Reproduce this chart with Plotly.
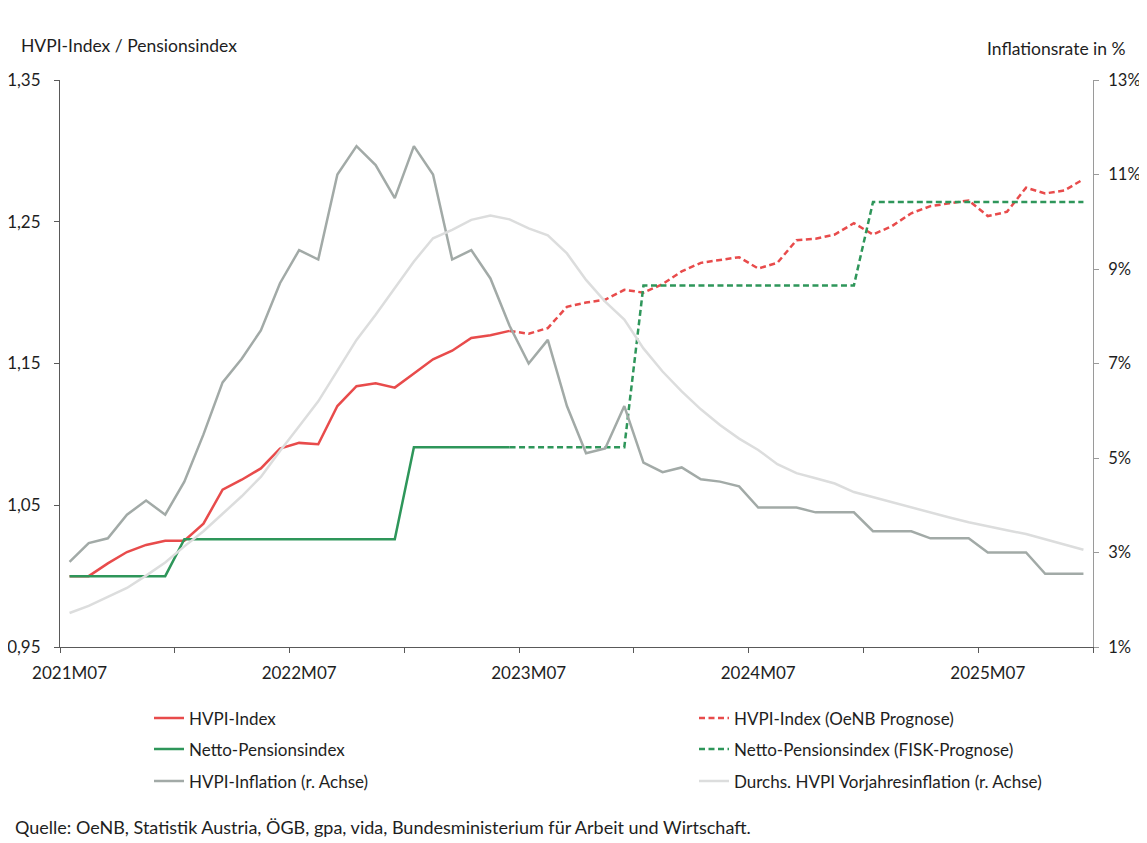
import plotly.graph_objects as go

# monthly categories 2021M07 .. 2025M12
MONTHS = [
    "2021M07", "2021M08", "2021M09", "2021M10", "2021M11", "2021M12",
    "2022M01", "2022M02", "2022M03", "2022M04", "2022M05", "2022M06",
    "2022M07", "2022M08", "2022M09", "2022M10", "2022M11", "2022M12",
    "2023M01", "2023M02", "2023M03", "2023M04", "2023M05", "2023M06",
    "2023M07", "2023M08", "2023M09", "2023M10", "2023M11", "2023M12",
    "2024M01", "2024M02", "2024M03", "2024M04", "2024M05", "2024M06",
    "2024M07", "2024M08", "2024M09", "2024M10", "2024M11", "2024M12",
    "2025M01", "2025M02", "2025M03", "2025M04", "2025M05", "2025M06",
    "2025M07", "2025M08", "2025M09", "2025M10", "2025M11", "2025M12",
]
LAST_OBSERVED = "2023M06"  # solid up to here, forecast (dashed) from here on

HVPI_INDEX = [
    1.000, 1.000, 1.009, 1.017, 1.022, 1.025,
    1.025, 1.037, 1.061, 1.068, 1.076, 1.090,
    1.094, 1.093, 1.120, 1.134, 1.136, 1.133,
    1.143, 1.153, 1.159, 1.168, 1.170, 1.173,
    1.171, 1.175, 1.190, 1.193, 1.195, 1.202,
    1.200, 1.206, 1.215, 1.221, 1.223, 1.225,
    1.217, 1.221, 1.237, 1.238, 1.241, 1.249,
    1.241, 1.247, 1.256, 1.261, 1.263, 1.265,
    1.254, 1.257, 1.274, 1.270, 1.272, 1.280,
]
PENSION_INDEX = [
    1.000, 1.000, 1.000, 1.000, 1.000, 1.000,
    1.026, 1.026, 1.026, 1.026, 1.026, 1.026,
    1.026, 1.026, 1.026, 1.026, 1.026, 1.026,
    1.091, 1.091, 1.091, 1.091, 1.091, 1.091,
    1.091, 1.091, 1.091, 1.091, 1.091, 1.091,
    1.205, 1.205, 1.205, 1.205, 1.205, 1.205,
    1.205, 1.205, 1.205, 1.205, 1.205, 1.205,
    1.264, 1.264, 1.264, 1.264, 1.264, 1.264,
    1.264, 1.264, 1.264, 1.264, 1.264, 1.264,
]
HVPI_INFLATION = [
    2.8, 3.2, 3.3, 3.8, 4.1, 3.8,
    4.5, 5.5, 6.6, 7.1, 7.7, 8.7,
    9.4, 9.2, 11.0, 11.6, 11.2, 10.5,
    11.6, 11.0, 9.2, 9.4, 8.8, 7.8,
    7.0, 7.5, 6.1, 5.1, 5.2, 6.1,
    4.9, 4.7, 4.8, 4.55, 4.5, 4.4,
    3.95, 3.95, 3.95, 3.85, 3.85, 3.85,
    3.45, 3.45, 3.45, 3.3, 3.3, 3.3,
    3.0, 3.0, 3.0, 2.55, 2.55, 2.55,
]
AVG_PREV_YEAR_INFLATION = [
    1.72, 1.87, 2.06, 2.25, 2.51, 2.79,
    3.13, 3.45, 3.82, 4.19, 4.60, 5.15,
    5.67, 6.20, 6.85, 7.50, 8.03, 8.59,
    9.16, 9.65, 9.83, 10.04, 10.13, 10.05,
    9.86, 9.71, 9.33, 8.77, 8.31, 7.93,
    7.32, 6.83, 6.41, 6.03, 5.70, 5.41,
    5.17, 4.87, 4.68, 4.57, 4.46, 4.28,
    4.17, 4.06, 3.95, 3.85, 3.74, 3.64,
    3.55, 3.47, 3.39, 3.28, 3.17, 3.06,
]

LEFT_TICKS = [0.95, 1.05, 1.15, 1.25, 1.35]
LEFT_TICKTEXT = ["0,95", "1,05", "1,15", "1,25", "1,35"]
RIGHT_TICKS = [1, 3, 5, 7, 9, 11, 13]
RIGHT_TICKTEXT = ["1%", "3%", "5%", "7%", "9%", "11%", "13%"]

COL_RED = "#E84B4B"
COL_GREEN = "#2E965A"
COL_GRAY = "#A2AAA7"
COL_LIGHT = "#DCDDDD"
COL_AXIS = "#595959"
COL_AXIS_R = "#9A9A9A"
COL_TEXT = "#1E1E1E"
FONT = "Lato"

# the page body has an 8px margin, so the figure starts at (8, 8) on screen
OFF = 8
W, H = 1139, 835
ML, MT = 52, 72
PW, PH = 1033, 567.5
MR, MB = W - ML - PW, H - MT - PH


def sx(p):
    """screen x (px) -> paper x"""
    return (p - OFF - ML) / PW


def sy(p):
    """screen y (px) -> paper y"""
    return (MT + PH - (p - OFF)) / PH


x = list(range(len(MONTHS)))
cut = MONTHS.index(LAST_OBSERVED)
label_pos = [i for i, m in enumerate(MONTHS) if m.endswith("M07")]

fig = go.Figure()
line_w = 2.5
dash = "6px,3.5px"

fig.add_trace(go.Scatter(
    x=x[:cut + 1], y=HVPI_INDEX[:cut + 1], mode="lines", name="HVPI-Index",
    line={"color": COL_RED, "width": line_w}, legend="legend",
))
fig.add_trace(go.Scatter(
    x=x[cut:], y=HVPI_INDEX[cut:], mode="lines", name="HVPI-Index (OeNB Prognose)",
    line={"color": COL_RED, "width": line_w, "dash": dash}, legend="legend2",
))
fig.add_trace(go.Scatter(
    x=x[:cut + 1], y=PENSION_INDEX[:cut + 1], mode="lines", name="Netto-Pensionsindex",
    line={"color": COL_GREEN, "width": line_w}, legend="legend3",
))
fig.add_trace(go.Scatter(
    x=x[cut:], y=PENSION_INDEX[cut:], mode="lines", name="Netto-Pensionsindex (FISK-Prognose)",
    line={"color": COL_GREEN, "width": line_w, "dash": dash}, legend="legend4",
))
fig.add_trace(go.Scatter(
    x=x, y=HVPI_INFLATION, mode="lines", name="HVPI-Inflation (r. Achse)", yaxis="y2",
    line={"color": COL_GRAY, "width": line_w}, legend="legend5",
))
fig.add_trace(go.Scatter(
    x=x, y=AVG_PREV_YEAR_INFLATION, mode="lines",
    name="Durchs. HVPI Vorjahresinflation (r. Achse)", yaxis="y2",
    line={"color": COL_LIGHT, "width": line_w}, legend="legend6",
))

font = {"family": FONT, "size": 17, "color": COL_TEXT}
tick_font = {"family": FONT, "size": 17, "color": COL_TEXT}


def legend_at(col_x, row_y):
    return dict(
        orientation="h", xanchor="left", yanchor="middle",
        x=sx(col_x), y=sy(row_y), bgcolor="rgba(0,0,0,0)",
        font=font, itemclick=False, itemdoubleclick=False,
    )


fig.update_layout(
    width=W, height=H,
    margin={"l": ML, "r": MR, "t": MT, "b": MB, "pad": 0, "autoexpand": False},
    paper_bgcolor="white", plot_bgcolor="white",
    font=font,
    showlegend=True,
    legend=legend_at(149, 719),
    legend2=legend_at(694, 719),
    legend3=legend_at(149, 750),
    legend4=legend_at(694, 750),
    legend5=legend_at(149, 782),
    legend6=legend_at(694, 782),
    xaxis={
        "range": [-0.5, len(MONTHS) - 0.5], "tickvals": label_pos,
        "ticktext": [MONTHS[i] for i in label_pos], "ticks": "",
        "ticklabelstandoff": 11, "automargin": False,
        "showline": True, "linecolor": COL_AXIS, "linewidth": 1,
        "showgrid": False, "zeroline": False,
        "minor": {"ticks": "outside", "tick0": -0.5, "dtick": 6, "ticklen": 5,
                  "tickcolor": COL_AXIS, "showgrid": False},
        "tickfont": tick_font,
    },
    yaxis={
        "range": [0.95, 1.35], "tickvals": LEFT_TICKS, "ticktext": LEFT_TICKTEXT,
        "ticks": "outside", "ticklen": 5, "tickcolor": COL_AXIS,
        "ticklabelstandoff": 10, "automargin": False,
        "showline": True, "linecolor": COL_AXIS, "linewidth": 1,
        "showgrid": False, "zeroline": False, "tickfont": tick_font,
    },
    yaxis2={
        "range": [1, 13], "tickvals": RIGHT_TICKS, "ticktext": RIGHT_TICKTEXT,
        "overlaying": "y", "side": "right",
        "ticks": "outside", "ticklen": 5, "tickcolor": COL_AXIS_R,
        "ticklabelstandoff": 6, "automargin": False,
        "showline": True, "linecolor": COL_AXIS_R, "linewidth": 1,
        "showgrid": False, "zeroline": False,
        "tickfont": {**tick_font, "size": 16.5},
    },
    annotations=[
        {"text": "HVPI-Index / Pensionsindex", "xref": "paper", "yref": "paper",
         "x": sx(19), "y": sy(45), "xanchor": "left", "yanchor": "middle",
         "showarrow": False, "font": {**font, "size": 17.5}},
        {"text": "Inflationsrate in %", "xref": "paper", "yref": "paper",
         "x": sx(1128), "y": sy(48), "xanchor": "right", "yanchor": "middle",
         "showarrow": False, "font": {**font, "size": 17.5}},
        {"text": "Quelle: OeNB, Statistik Austria, ÖGB, gpa, vida, "
                 "Bundesministerium für Arbeit und Wirtschaft.",
         "xref": "paper", "yref": "paper",
         "x": sx(13), "y": sy(828), "xanchor": "left", "yanchor": "middle",
         "showarrow": False, "font": {**font, "size": 18}},
    ],
)

fig.write_html("out.html")
